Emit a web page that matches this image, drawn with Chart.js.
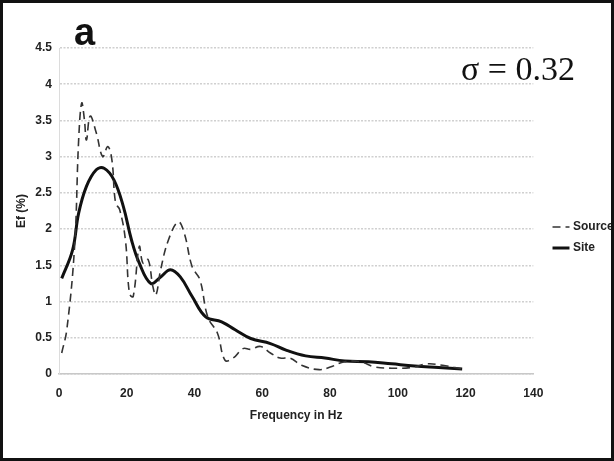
<!DOCTYPE html>
<html>
<head>
<meta charset="utf-8">
<script src="https://cdn.jsdelivr.net/npm/chart.js@4/dist/chart.umd.min.js"></script>
<style>
  html, body { margin: 0; padding: 0; background: #fff; }
  #wrap { position: relative; width: 614px; height: 461px; }
  #frame { position: absolute; left: 0; top: 0; width: 614px; height: 461px; box-sizing: border-box; border: 3px solid #111; pointer-events: none; }
  canvas { position: absolute; left: 0; top: 0; }
</style>
</head>
<body>
<div id="wrap">
  <canvas id="c" width="614" height="461"></canvas>
  <div id="frame"></div>
</div>
<script>
// ---- data ----
const seriesNames = ["Source", "Site"];
const sourceFreq = [0.8, 2.3, 4.6, 5.8, 6.7, 7.5, 8.1, 9.2, 11, 12.9, 14.4, 15.6, 16.7, 17.9, 19.6, 20.8, 21.9, 23.7, 24.8, 26.3, 27.7, 28.6, 30, 32.3, 35.2, 37, 39.3, 41.6, 43.9, 46.8, 49, 51.4, 54.3, 56.6, 59.5, 62.4, 65.3, 68.2, 71.6, 76.8, 80.3, 84.3, 89, 93, 98.2, 104, 108.6, 113.2, 119];
const sourceEf   = [0.29, 0.61, 1.76, 3.23, 3.74, 3.51, 3.23, 3.56, 3.33, 3.0, 3.14, 2.96, 2.36, 2.27, 1.85, 1.11, 1.07, 1.76, 1.53, 1.58, 1.21, 1.09, 1.44, 1.85, 2.1, 1.94, 1.48, 1.3, 0.79, 0.56, 0.19, 0.22, 0.35, 0.34, 0.38, 0.29, 0.22, 0.22, 0.12, 0.06, 0.1, 0.17, 0.17, 0.1, 0.08, 0.09, 0.14, 0.12, 0.07];
const siteFreq = [0.8, 4, 5.8, 8.1, 11, 13.3, 16.2, 19, 21.4, 23.7, 27.1, 30, 32.9, 35.8, 39.3, 43.3, 48, 52, 56.6, 62.4, 67, 72.8, 78.5, 84.3, 91.3, 98.2, 105, 112, 119];
const siteEf   = [1.32, 1.71, 2.22, 2.59, 2.82, 2.84, 2.68, 2.31, 1.85, 1.53, 1.25, 1.34, 1.44, 1.34, 1.07, 0.79, 0.72, 0.61, 0.49, 0.42, 0.33, 0.25, 0.22, 0.18, 0.17, 0.14, 0.11, 0.09, 0.07];
const xTicks = [0, 20, 40, 60, 80, 100, 120, 140];
const yTicks = [0, 0.5, 1, 1.5, 2, 2.5, 3, 3.5, 4, 4.5];
const panelLabel = "a";
const sigmaLabel = "σ = 0.32";
const xTitle = "Frequency in Hz";
const yTitle = "Ef (%)";

const toPts = (xs, ys) => xs.map((x, i) => ({ x: x, y: ys[i] }));
const sans = "'Liberation Sans', Arial, sans-serif";

const textPlugin = {
  id: 'panelText',
  afterLayout(chart) {
    const lg = chart.legend;
    if (lg) {
      const dx = 555 - (lg.left + lg.options.labels.padding);
      lg.left += dx; lg.right += dx;
    }
  },
  afterDraw(chart) {
    const ctx = chart.ctx;
    ctx.save();
    ctx.fillStyle = '#111';
    ctx.textBaseline = 'alphabetic';
    ctx.textAlign = 'left';
    ctx.font = "bold 38px 'Liberation Sans', Arial, sans-serif";
    ctx.fillText(panelLabel, 74, 45);
    ctx.font = "34px 'Liberation Serif', 'Times New Roman', serif";
    ctx.fillText(sigmaLabel, 461, 80);
    ctx.restore();
  }
};

new Chart(document.getElementById('c'), {
  type: 'line',
  data: {
    datasets: [
      {
        label: seriesNames[0],
        data: toPts(sourceFreq, sourceEf),
        borderColor: '#333',
        backgroundColor: '#333',
        borderWidth: 1.6,
        borderDash: [8, 5],
        pointRadius: 0,
        tension: 0.4,
        fill: false
      },
      {
        label: seriesNames[1],
        data: toPts(siteFreq, siteEf),
        borderColor: '#111',
        backgroundColor: '#111',
        borderWidth: 3,
        pointRadius: 0,
        tension: 0.4,
        fill: false
      }
    ]
  },
  options: {
    responsive: false,
    animation: false,
    events: [],
    layout: { padding: { left: 10, top: 48, right: 3, bottom: 34 } },
    scales: {
      x: {
        type: 'linear',
        min: 0, max: 140,
        afterBuildTicks(scale) { scale.ticks = xTicks.map(v => ({ value: v })); },
        afterFit(scale) { scale.height = 53; },
        grid: { display: false, drawTicks: false },
        border: { display: true, color: '#c8c8c8', width: 1.5 },
        ticks: { color: '#222', font: { family: sans, size: 12, weight: 'bold' }, padding: 12, maxRotation: 0 },
        title: { display: true, text: xTitle, color: '#222', font: { family: sans, size: 12, weight: 'bold' }, padding: { top: 4 } }
      },
      y: {
        min: 0, max: 4.5,
        afterBuildTicks(scale) { scale.ticks = yTicks.map(v => ({ value: v })); },
        afterFit(scale) { scale.width = 49; },
        grid: { color: '#d0d0d0', lineWidth: 1.5, drawTicks: false },
        border: { display: true, color: '#dcdcdc', dash: [2, 1.5], width: 1 },
        ticks: { color: '#222', font: { family: sans, size: 12, weight: 'bold' }, padding: 7, callback: v => String(v) },
        title: { display: true, text: yTitle, color: '#222', font: { family: sans, size: 12, weight: 'bold' }, padding: { bottom: 2 } }
      }
    },
    plugins: {
      legend: {
        position: 'right',
        align: 'center',
        labels: {
          usePointStyle: true,
          pointStyle: 'line',
          boxWidth: 15,
          boxHeight: 15,
          padding: 9,
          color: '#222',
          font: { family: sans, size: 12, weight: 'bold' },
          generateLabels(chart) {
            return chart.data.datasets.map((ds, i) => ({
              text: ds.label,
              fillStyle: ds.borderColor,
              strokeStyle: ds.borderColor,
              lineWidth: ds.borderWidth,
              lineDash: ds.borderDash || [],
              pointStyle: 'line',
              datasetIndex: i,
              fontColor: '#222'
            }));
          }
        }
      },
      tooltip: { enabled: false }
    }
  },
  plugins: [textPlugin]
});
</script>
</body>
</html>
